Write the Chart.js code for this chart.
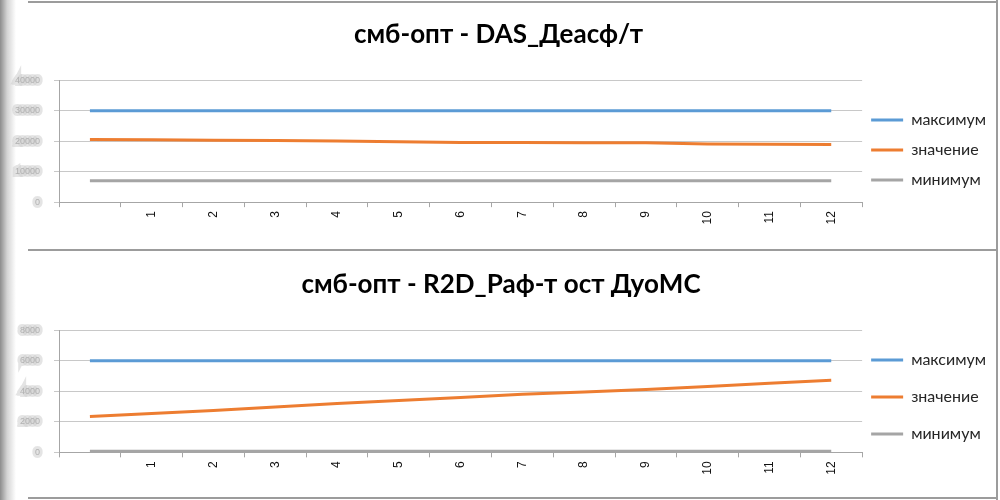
<!DOCTYPE html>
<html><head><meta charset="utf-8">
<script src="https://cdn.jsdelivr.net/npm/chart.js@4.4.1/dist/chart.umd.min.js"></script>
<style>
html,body{margin:0;padding:0;background:#fff;width:1000px;height:500px;overflow:hidden;position:relative}
.shadow{position:absolute;left:0;top:0;width:16px;height:500px;background:linear-gradient(to right,#8c8c8c,#d4d4d4 45%,#fff)}
.hl{position:absolute;left:28px;width:970px;height:2px;background:#9c9c9c}
.vr{position:absolute;left:996px;top:0;width:2px;height:500px;background:#9c9c9c}
.box{position:absolute;left:0;width:996px}
</style></head><body>
<div class="shadow"></div>
<div class="box" style="top:4px;height:245px"><canvas id="c1"></canvas></div>
<div class="box" style="top:252px;height:245px"><canvas id="c2"></canvas></div>
<div class="hl" style="top:1px"></div>
<div class="hl" style="top:249px"></div>
<div class="hl" style="top:497px"></div>
<div class="vr"></div>
<script>
const categories = ['', '1', '2', '3', '4', '5', '6', '7', '8', '9', '10', '11', '12'];
const seriesNames = ['максимум', 'значение', 'минимум'];
const titleDAS = 'смб-опт - DAS_Деасф/т';
const titleR2D = 'смб-опт - R2D_Раф-т ост ДуоМС';

const dasMax = [30000, 30000, 30000, 30000, 30000, 30000, 30000, 30000, 30000, 30000, 30000, 30000, 30000];
const dasVal = [20550, 20450, 20300, 20250, 20050, 19850, 19600, 19600, 19450, 19450, 19100, 19000, 18950];
const dasMin = [7000, 7000, 7000, 7000, 7000, 7000, 7000, 7000, 7000, 7000, 7000, 7000, 7000];
const dasTicks = [0, 10000, 20000, 30000, 40000];

const r2dMax = [6000, 6000, 6000, 6000, 6000, 6000, 6000, 6000, 6000, 6000, 6000, 6000, 6000];
const r2dVal = [2350, 2550, 2740, 2970, 3200, 3400, 3600, 3800, 3960, 4120, 4320, 4520, 4720];
const r2dMin = [80, 80, 80, 80, 80, 80, 80, 80, 80, 80, 80, 80, 80];
const r2dTicks = [0, 2000, 4000, 6000, 8000];

const colors = ['#5B9BD5', '#ED7D31', '#A5A5A5'];

function makeChart(id, title, series, ticks, lg, pad) {
  const stepSize = ticks[1] - ticks[0];
  return new Chart(document.getElementById(id), {
    type: 'line',
    data: {
      labels: categories,
      datasets: series.map((d, i) => ({
        label: seriesNames[i], data: d,
        borderColor: colors[i], backgroundColor: colors[i],
        borderWidth: 3, pointRadius: 0, pointStyle: 'line', tension: 0
      }))
    },
    options: {
      responsive: true, maintainAspectRatio: false, animation: false,
      layout: {padding: pad},
      plugins: {
        title: {display: true, text: title, color: '#000',
          font: {family: 'Lato', weight: 'bold', size: 26}, padding: {top: lg.titleTop, bottom: 30}},
        legend: {position: 'right', align: 'center', fullSize: true,
          title: {display: true, text: '', padding: 0, font: {size: lg.offset}},
          labels: {usePointStyle: true, pointStyle: 'line', pointStyleWidth: 32, boxHeight: 14,
            color: '#262626', font: {family: 'Lato', size: 16, lineHeight: lg.lineHeight}, padding: 9,
            generateLabels: chart => Chart.defaults.plugins.legend.labels.generateLabels(chart)
              .map(item => Object.assign(item, {text: [item.text]}))}},
        tooltip: {enabled: false}
      },
      scales: {
        x: {offset: true,
          grid: {offset: true, drawOnChartArea: false, drawTicks: true, tickLength: 5, color: '#a6a6a6'},
          border: {color: '#a6a6a6'},
          ticks: {maxRotation: 90, minRotation: 90, autoSkip: false, color: '#111',
            font: {family: 'Liberation Sans', size: 12}, padding: 4}},
        y: {min: ticks[0], max: ticks[ticks.length - 1],
          afterBuildTicks: s => { s.ticks = ticks.map(v => ({value: v})); },
          ticks: {stepSize: stepSize, callback: v => String(v), color: 'rgba(172,172,172,0.9)',
            textStrokeColor: 'rgba(205,205,205,0.55)', textStrokeWidth: 6,
            font: {family: 'Liberation Sans', size: 9}, padding: 14},
          grid: {color: '#c8c8c8', tickLength: 5},
          border: {color: '#a6a6a6'}}
      }
    }
  });
}

makeChart('c1', titleDAS, [dasMax, dasVal, dasMin], dasTicks,
  {titleTop: 15, offset: 60.4, lineHeight: 1.3125}, {left: 1, right: 0, top: 0, bottom: 20.5});
makeChart('c2', titleR2D, [r2dMax, r2dVal, r2dMin], r2dTicks,
  {titleTop: 17, offset: 62.7, lineHeight: 1.75}, {left: 6, right: 0, top: 0, bottom: 18.3});
</script>
</body></html>
